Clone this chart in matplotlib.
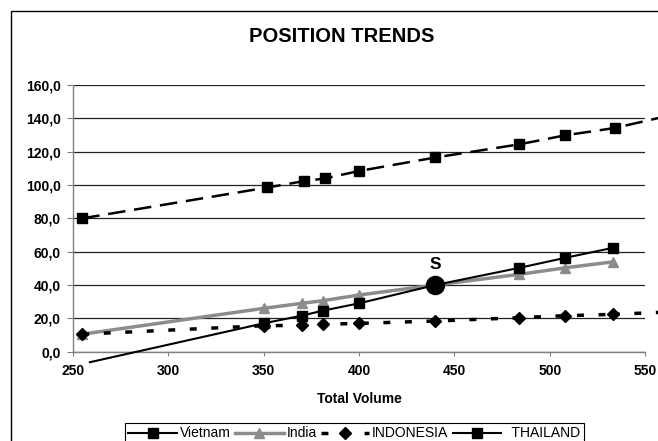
import numpy as np
import matplotlib.pyplot as plt
from matplotlib.lines import Line2D
from matplotlib.patches import Rectangle
from matplotlib.ticker import FuncFormatter

plt.rcParams['font.family'] = ['Liberation Sans', 'DejaVu Sans']

# volumes where the series were measured
vol = [350, 370, 381, 400, 440, 484, 508, 533]

vietnam_x = [259] + vol
vietnam_y = [-6.3, 17.0, 21.6, 24.6, 29.0, 40.0, 50.3, 56.3, 62.3]

india_x = [255] + vol
india_y = [10.5, 26.0, 29.0, 30.6, 34.0, 40.0, 46.4, 50.3, 53.9]

indo_x = [255] + vol + [560]
indo_y = [10.5, 15.6, 15.8, 16.4, 17.0, 18.4, 20.4, 21.6, 22.4, 23.7]

thai_x = [255, 352, 371, 382, 400, 440, 484, 508, 534, 560]
thai_y = [80.0, 98.5, 102.3, 103.9, 108.4, 116.5, 124.4, 129.8, 134.2, 141.0]

s_point = (440, 40.0)

fig = plt.figure(figsize=(6.58, 4.41), dpi=100)
ax = fig.add_axes([0.1105, 0.2025, 0.8702, 0.6048])

# outer chart frame
fig.patches.append(Rectangle((11/658, -0.2), 1.2, 1 - 11/441 + 0.2,
                             transform=fig.transFigure, fill=False,
                             edgecolor='black', lw=1.0, zorder=0))

ax.set_xlim(250, 550)
ax.set_ylim(0, 160)
ax.set_yticks(np.arange(0, 161, 20))
ax.set_xticks(np.arange(250, 551, 50))
ax.yaxis.set_major_formatter(FuncFormatter(lambda v, p: f'{v:.1f}'.replace('.', ',')))
ax.grid(axis='y', color='#222222', lw=0.9)
ax.set_axisbelow(True)
for s in ['top', 'right']:
    ax.spines[s].set_visible(False)
for s in ['left', 'bottom']:
    ax.spines[s].set_color('#808080')
    ax.spines[s].set_linewidth(1.0)
ax.tick_params(axis='y', length=4, color='#808080', pad=4.5, labelsize=10)
ax.tick_params(axis='x', length=3, color='#808080', pad=6, labelsize=10)
for lbl in ax.get_xticklabels() + ax.get_yticklabels():
    lbl.set_fontweight('bold')

ax.plot(india_x[1:], india_y[1:], color='#8c8c8c', lw=2.5, marker='^', ms=7,
        clip_on=False, zorder=3)
ax.plot(india_x[:2], india_y[:2], color='#8c8c8c', lw=2.5, clip_on=False, zorder=3)
ax.plot(india_x[0], india_y[0], color='#8c8c8c', marker='^', ms=7, clip_on=False, zorder=3)

ax.plot(indo_x[:-1], indo_y[:-1], color='black', lw=2.5, dashes=(2, 4.2),
        marker='D', ms=6, clip_on=False, zorder=4)
ax.plot(indo_x[-2:], indo_y[-2:], color='black', lw=2.5, dashes=(2, 4.2),
        clip_on=False, zorder=4)

ax.plot(vietnam_x, vietnam_y, color='black', lw=1.5, clip_on=False, zorder=5)
ax.plot(vietnam_x[1:], vietnam_y[1:], ls='none', color='black', marker='s', ms=7,
        clip_on=False, zorder=5)

ax.plot(thai_x, thai_y, color='black', lw=1.8, dashes=(7, 3.5), clip_on=False, zorder=5)
ax.plot(thai_x[:-1], thai_y[:-1], ls='none', color='black', marker='s', ms=7,
        clip_on=False, zorder=5)

ax.plot(*s_point, 'o', color='black', ms=13, zorder=6)
ax.text(s_point[0], s_point[1] + 8, 'S', ha='center', va='bottom',
        fontsize=12.5, fontweight='bold')

ax.set_xlabel('Total Volume', fontsize=10, fontweight='bold', labelpad=10)
fig.text(341.5/658, 1 - 36.7/441, 'POSITION TRENDS', ha='center', va='center',
         fontsize=14.5, fontweight='bold')

handles = [
    Line2D([], [], color='black', lw=1.5, marker='s', ms=7),
    Line2D([], [], color='#8c8c8c', lw=2.5, marker='^', ms=7),
    Line2D([], [], color='black', lw=2.5, dashes=(2, 4.2), marker='D', ms=6),
    Line2D([], [], color='black', lw=1.5, marker='s', ms=7),
]
labels = ['Vietnam', 'India', 'INDONESIA', '  THAILAND']
leg = fig.legend(handles, labels, loc='upper left', bbox_to_anchor=(125/658, 1 - 423/441),
                 ncol=4, fontsize=10, handlelength=3.5, handletextpad=0.2,
                 columnspacing=0.3, borderpad=0.25, borderaxespad=0, fancybox=False,
                 framealpha=1, edgecolor='black')
leg.get_frame().set_linewidth(0.8)

fig.savefig('out.png', dpi=100)
